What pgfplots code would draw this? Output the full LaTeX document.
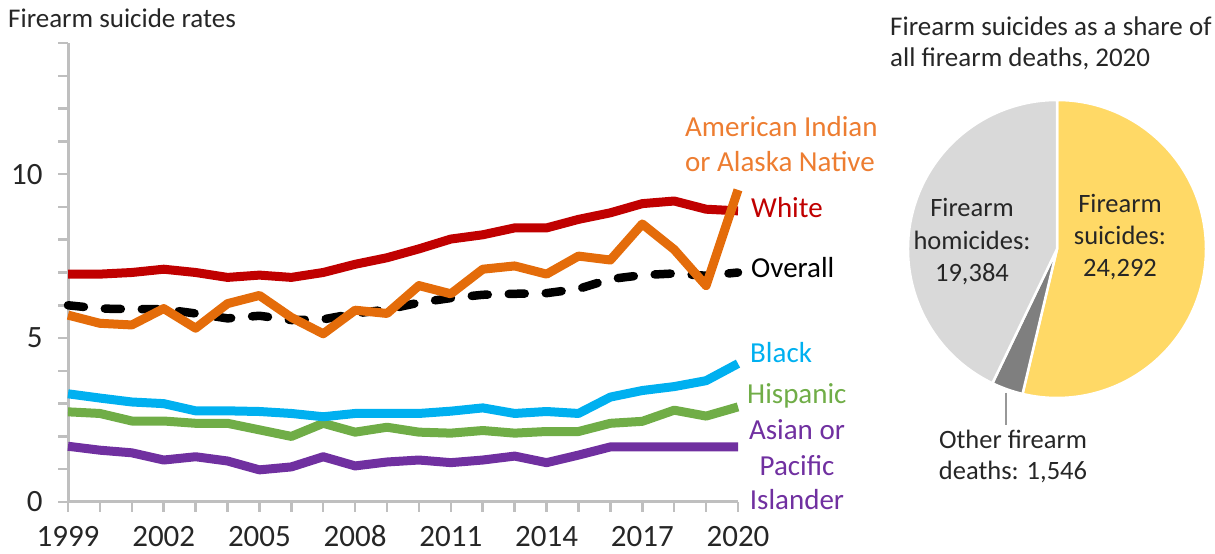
\documentclass[border=0pt]{standalone}
\usepackage{pgfplots}
\pgfplotsset{compat=1.18}
\usepackage{pgfplotstable}
\usepackage{fontspec}
\setmainfont{Carlito}
\definecolor{cRed}{HTML}{C00000}
\definecolor{cOrange}{HTML}{E46C0A}
\definecolor{cOrangeT}{HTML}{ED7D31}
\definecolor{cBlue}{HTML}{00B0F0}
\definecolor{cGreen}{HTML}{70AD47}
\definecolor{cPurple}{HTML}{7030A0}
\definecolor{cAxis}{HTML}{BFBFBF}
\definecolor{cText}{HTML}{262626}
\definecolor{cYellow}{HTML}{FFD966}
\definecolor{cLight}{HTML}{D9D9D9}
\definecolor{cDark}{HTML}{7F7F7F}

\pgfplotstableread{
year white overall aian black hisp api
1999 6.95 6.00 5.70 3.30 2.75 1.70
2000 6.95 5.90 5.45 3.17 2.70 1.58
2001 7.00 5.88 5.40 3.05 2.47 1.50
2002 7.10 5.88 5.90 3.00 2.47 1.28
2003 7.00 5.75 5.30 2.78 2.40 1.38
2004 6.85 5.60 6.05 2.78 2.40 1.25
2005 6.92 5.68 6.30 2.76 2.20 0.98
2006 6.85 5.55 5.63 2.70 2.00 1.07
2007 7.00 5.57 5.13 2.60 2.40 1.38
2008 7.25 5.75 5.85 2.70 2.13 1.10
2009 7.45 5.87 5.75 2.70 2.28 1.22
2010 7.72 6.08 6.60 2.70 2.13 1.28
2011 8.02 6.22 6.35 2.77 2.10 1.20
2012 8.15 6.32 7.10 2.87 2.18 1.28
2013 8.36 6.35 7.20 2.70 2.10 1.40
2014 8.36 6.37 6.95 2.76 2.15 1.20
2015 8.62 6.50 7.50 2.70 2.15 1.43
2016 8.82 6.80 7.38 3.20 2.40 1.68
2017 9.10 6.92 8.48 3.40 2.46 1.68
2018 9.18 6.97 7.70 3.52 2.80 1.68
2019 8.93 6.90 6.60 3.70 2.62 1.68
2020 8.88 7.00 9.52 4.22 2.90 1.68
}\rates

% pie values (firearm deaths, 2020)
\newcommand\suic{24292}
\newcommand\homi{19384}
\newcommand\othr{1546}

\newcommand\fs[1]{\fontsize{#1bp}{1.2\dimexpr#1bp\relax}\selectfont}

\begin{document}
\begin{tikzpicture}[x=1bp,y=1bp]
\begin{axis}[
  at={(68bp,52bp)}, anchor=south west,
  scale only axis, width=670bp, height=459bp,
  xmin=1999, xmax=2020, ymin=0, ymax=14,
  axis lines*=left,
  axis line style={cAxis, line width=3bp},
  tick style={cAxis, line width=2.5bp},
  minor tick style={cAxis, line width=2.5bp},
  tick align=outside,
  major tick length=10bp, minor tick length=10bp,
  xtick={1999,2002,...,2020},
  minor xtick={1999,...,2020},
  ytick={0,5,10},
  minor ytick={1,...,14},
  /pgf/number format/.cd, 1000 sep={}, assume math mode=true, /pgfplots/.cd,
  tick label style={font=\fs{31}, text=cText},
  xticklabel style={anchor=base, yshift=-35bp},
  yticklabel style={anchor=east, xshift=-12bp},
  clip=false,
]
\addplot[cPurple, line width=9bp, line join=round] table[x=year,y=api]{\rates};
\addplot[cGreen, line width=9bp, line join=round] table[x=year,y=hisp]{\rates};
\addplot[cBlue, line width=9bp, line join=round] table[x=year,y=black]{\rates};
\addplot[black, line width=8.5bp, line cap=round, line join=round, dash pattern=on 16bp off 21bp] table[x=year,y=overall]{\rates};
\addplot[cRed, line width=9bp, line join=round] table[x=year,y=white]{\rates};
\addplot[cOrange, line width=9bp, line join=round] table[x=year,y=aian]{\rates};
\end{axis}

% titles
\node[anchor=base west, text=cText, font=\fs{27}, inner sep=0] at (8,526) {Firearm suicide rates};
\node[anchor=base west, text=cText, font=\fs{27}, inner sep=0] at (890,518) {Firearm suicides as a share of};
\node[anchor=base west, text=cText, font=\fs{27}, inner sep=0] at (890,487) {all firearm deaths, 2020};

% series labels
\begin{scope}[every node/.style={inner sep=0, font=\fs{29}}]
\node[anchor=base west, text=cOrangeT] at (685,417) {American Indian};
\node[anchor=base west, text=cOrangeT] at (685,382) {or Alaska Native};
\node[anchor=base west, text=cRed] at (751,336) {White};
\node[anchor=base west, text=black] at (751,276) {Overall};
\node[anchor=base west, text=cBlue] at (750,191) {Black};
\node[anchor=base west, text=cGreen] at (747,150) {Hispanic};
\node[anchor=base, text=cPurple] at (797,114) {Asian or};
\node[anchor=base, text=cPurple] at (797,78) {Pacific};
\node[anchor=base, text=cPurple] at (797,44) {Islander};
\end{scope}

% pie
\edef\aS{\fpeval{360*\suic/(\suic+\homi+\othr)}}
\edef\aO{\fpeval{360*\othr/(\suic+\homi+\othr)}}
\edef\eS{\fpeval{90-\aS}}
\edef\eO{\fpeval{90-\aS-\aO}}
\coordinate (C) at (1057,305);
\def\R{149}
\filldraw[fill=cYellow, draw=white, line width=2.5bp, line join=round]
  (C) -- ++(90:\R) arc[start angle=90, end angle=\eS, radius=\R] -- cycle;
\filldraw[fill=cDark, draw=white, line width=2.5bp, line join=round]
  (C) -- ++(\eS:\R) arc[start angle=\eS, end angle=\eO, radius=\R] -- cycle;
\filldraw[fill=cLight, draw=white, line width=2.5bp, line join=round]
  (C) -- ++(\eO:\R) arc[start angle=\eO, end angle=-270, radius=\R] -- cycle;

\draw[cDark!80, line width=2.5bp] (1006,161) -- (1006,129);

\begin{scope}[every node/.style={inner sep=0, font=\fs{26.5}, text=cText, anchor=base}]
\node at (972,337) {Firearm};
\node at (972,304) {homicides:};
\node at (972,272) {19,384};
\node at (1120,341) {Firearm};
\node at (1120,309) {suicides:};
\node at (1120,277) {24,292};
\node at (1013,105) {Other firearm};
\node at (1013,74) {deaths: 1,546};
\end{scope}

\pgfresetboundingbox
\useasboundingbox (0,0) rectangle (1215,554);
\end{tikzpicture}
\end{document}
